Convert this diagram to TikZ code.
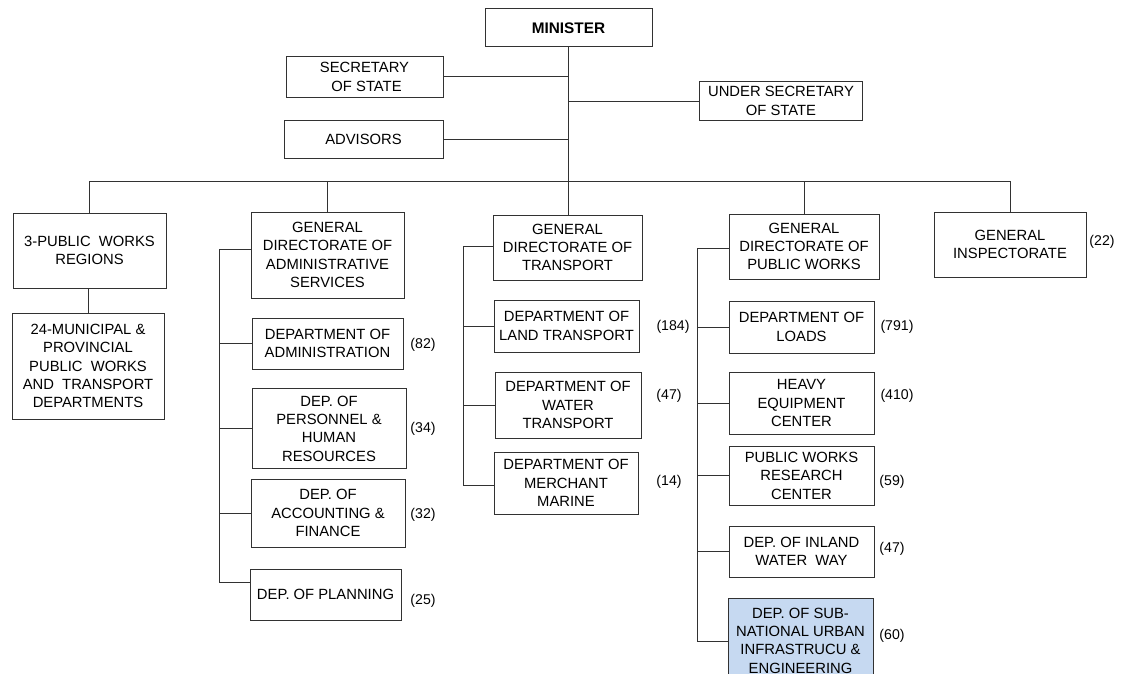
\documentclass[tikz,border=0pt]{standalone}
\usepackage{fontspec}
\setmainfont{Liberation Sans}
\definecolor{subblue}{RGB}{198,217,241}
\definecolor{edge}{RGB}{50,50,50}
\begin{document}
\begin{tikzpicture}[x=0.75pt,y=-0.75pt,
  box/.style={draw=edge, line width=0.75pt, align=center, inner sep=0pt,
    font=\fontsize{11.1}{13.8}\selectfont},
  sz/.style 2 args={minimum width=#1*0.75pt, minimum height=#2*0.75pt},
  num/.style={inner sep=0pt, font=\fontsize{10.6}{12}\selectfont},
  ln/.style={draw=edge, line width=0.75pt}]
\useasboundingbox (0,0) rectangle (1127,674);
\clip (0,0) rectangle (1127,674);

% top level
\node[box, sz={167}{38}, font=\fontsize{11.5}{13.6}\selectfont\bfseries] (min) at (568.5,28) {MINISTER};
\node[box, sz={157}{40}] (sec) at (364.5,77) {SECRETARY\\ \ OF STATE};
\node[box, sz={163}{38}] (under) at (781,101) {UNDER SECRETARY\\OF STATE};
\node[box, sz={159}{38}] (adv) at (363.5,139) {ADVISORS};

% level 2
\node[box, sz={153}{75}] (pwr) at (89.5,250.5) {3-PUBLIC\ \ WORKS\\REGIONS};
\node[box, sz={152}{106}] (mun) at (88,366) {24-MUNICIPAL \&\\PROVINCIAL\\PUBLIC\ \ WORKS\\AND\ \ TRANSPORT\\DEPARTMENTS};
\node[box, sz={153}{86}] (gda) at (327.5,255) {GENERAL\\DIRECTORATE OF\\ADMINISTRATIVE\\SERVICES};
\node[box, sz={149}{65}] (gdt) at (567.5,247.5) {GENERAL\\DIRECTORATE OF\\TRANSPORT};
\node[box, sz={150}{65}] (gdp) at (804,246.5) {GENERAL\\DIRECTORATE OF\\PUBLIC WORKS};
\node[box, sz={152}{65}] (gi) at (1010,244.5) {GENERAL\\INSPECTORATE};

% admin column
\node[box, sz={151}{51}] (adm) at (327.5,343.5) {DEPARTMENT OF\\ADMINISTRATION};
\node[box, sz={154}{80}] (per) at (329,428.5) {DEP. OF\\PERSONNEL \&\\HUMAN\\RESOURCES};
\node[box, sz={154}{68}] (acc) at (328,513) {DEP. OF\\ACCOUNTING \&\\FINANCE};
\node[box, sz={151}{51}] (pla) at (325.5,594.5) {DEP. OF PLANNING};

% transport column
\node[box, sz={145}{52}] (lan) at (566.5,326) {DEPARTMENT OF\\LAND TRANSPORT};
\node[box, sz={146}{66}] (wat) at (568,405) {DEPARTMENT OF\\WATER\\TRANSPORT};
\node[box, sz={144}{62}] (mer) at (566,483) {DEPARTMENT OF\\MERCHANT\\MARINE};

% public works column
\node[box, sz={145}{52}] (loa) at (801.5,327) {DEPARTMENT OF\\LOADS};
\node[box, sz={145}{62}] (hea) at (801.5,403) {HEAVY\\EQUIPMENT\\CENTER};
\node[box, sz={145}{59}] (res) at (801.5,475.5) {PUBLIC WORKS\\RESEARCH\\CENTER};
\node[box, sz={145}{51}] (inl) at (801.5,551.5) {DEP. OF INLAND\\WATER\ \ WAY};
\node[box, sz={145}{85}, fill=subblue] (sub) at (800.5,640.5) {DEP. OF SUB-\\NATIONAL URBAN\\INFRASTRUCU \&\\ENGINEERING};

% numbers
\node[num] (n82) at (423,345) {(82)};
\node[num] (n34) at (423,429) {(34)};
\node[num] (n32) at (423,515) {(32)};
\node[num] (n25) at (423,601) {(25)};
\node[num] (n184) at (673,327) {(184)};
\node[num] (n47a) at (669,396) {(47)};
\node[num] (n14) at (669,482) {(14)};
\node[num] (n791) at (897,327) {(791)};
\node[num] (n410) at (897,396) {(410)};
\node[num] (n59) at (892,482) {(59)};
\node[num] (n47b) at (892,549) {(47)};
\node[num] (n60) at (892,636) {(60)};
\node[num] (n22) at (1102,242) {(22)};

% coordinates
\coordinate (busL) at (90,181);
\coordinate (busR) at (1010,181);
\coordinate (ab1) at (219,249);
\coordinate (ab2) at (219,582);
\coordinate (tb1) at (463,246);
\coordinate (tb2) at (463,485);
\coordinate (pb1) at (697,248);
\coordinate (pb2) at (697,641);

% connectors
\draw[ln] (min.south) -- (min.south |- gdt.north);
\draw[ln] (sec.east) -- (sec.east -| min.south);
\draw[ln] (under.west) -- (under.west -| min.south);
\draw[ln] (adv.east) -- (adv.east -| min.south);
\draw[ln] (busL) -- (busR);
\draw[ln] (pwr.north) -- (pwr.north |- busL);
\draw[ln] (gda.north) -- (gda.north |- busL);
\draw[ln] (gdp.north) -- (gdp.north |- busL);
\draw[ln] (gi.north) -- (gi.north |- busL);
\draw[ln] (mun.north) -- (mun.north |- pwr.south);

\draw[ln] (ab1) -- (ab2);
\draw[ln] (ab1) -- (ab1 -| gda.west);
\draw[ln] (adm.west) -- (adm.west -| ab1);
\draw[ln] (per.west) -- (per.west -| ab1);
\draw[ln] (acc.west) -- (acc.west -| ab1);
\draw[ln] (ab2) -- (ab2 -| pla.west);

\draw[ln] (tb1) -- (tb2);
\draw[ln] (tb1) -- (tb1 -| gdt.west);
\draw[ln] (lan.west) -- (lan.west -| tb1);
\draw[ln] (wat.west) -- (wat.west -| tb1);
\draw[ln] (tb2) -- (tb2 -| mer.west);

\draw[ln] (pb1) -- (pb2);
\draw[ln] (pb1) -- (pb1 -| gdp.west);
\draw[ln] (loa.west) -- (loa.west -| pb1);
\draw[ln] (hea.west) -- (hea.west -| pb1);
\draw[ln] (res.west) -- (res.west -| pb1);
\draw[ln] (inl.west) -- (inl.west -| pb1);
\draw[ln] (pb2) -- (pb2 -| sub.west);
\end{tikzpicture}
\end{document}
